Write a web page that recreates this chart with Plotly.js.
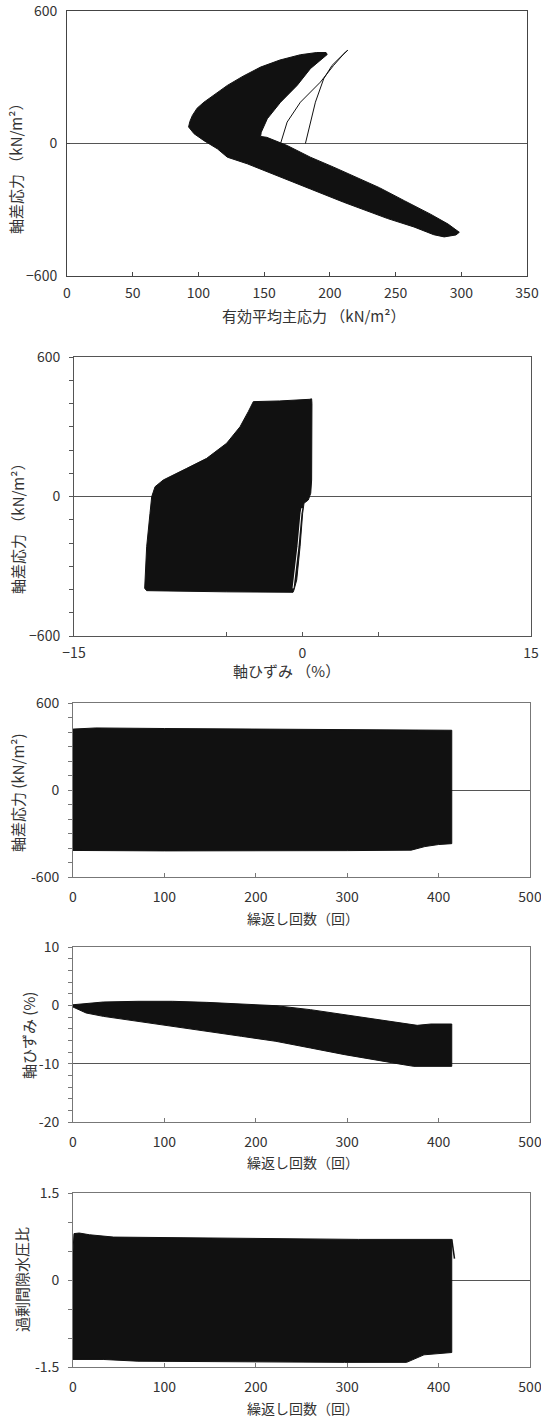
<!DOCTYPE html>
<html>
<head>
<meta charset="utf-8">
<script src="https://cdn.plot.ly/plotly-3.0.1.min.js"></script>
<style>html,body{margin:0;padding:0;background:#fff;}#chart{width:541px;height:1423px;}</style>
</head>
<body>
<div id="chart"></div>
<script>
// ---------- Panel 1: stress path (effective mean principal stress vs deviator stress) ----------
const p1OutlineP = [92.5, 93.5, 95.4, 99, 104.2, 112, 122, 134, 147.3, 162, 177.6, 190, 197.1,
  198, 185.2, 175.1, 162.5, 152.4, 147.8, 147.3,
  152, 167.5, 185.2, 202.9, 223.2, 237.7, 257, 276.9, 290, 298.5,
  296, 287, 279, 264, 244, 223.2, 210.5, 185.2, 160, 137.2, 122, 114.4, 104.2, 96.7, 92.5];
const p1OutlineQ = [75, 100, 127, 160, 187, 222, 263, 305, 346, 378, 402, 412, 412,
  403, 339, 263, 187, 112, 51, 32,
  28, -9, -62, -107, -160, -200, -260, -321, -365, -402,
  -414, -423, -413, -378, -340, -296, -266, -206, -145, -92, -62, -24, 13, 44, 75];
const p1FirstP = [181.4, 184, 189, 195.3, 201.7, 208, 213.6, 211.8, 202.9, 192.8, 177.6, 167.5, 162.5];
const p1FirstQ = [0, 67, 187, 293, 354, 391, 422, 414, 354, 278, 187, 97, 0];

// ---------- Panel 2: axial strain vs deviator stress ----------
const p2OutlineS = [-3.23, -1.5, 0.45, 0.60, 0.62, 0.62, 0.60, 0.54, 0.38, 0.10, 0.01, -0.16, -0.38, -0.56, -0.62,
  -5.0, -10.23, -10.36, -10.34, -10.23, -10.01, -9.90, -9.68, -9.14, -7.60, -6.29, -4.98, -4.10, -3.56, -3.23];
const p2OutlineQ = [408, 411, 418, 420, 400, 200, 71, 14, -15, -29, -72, -216, -359, -402, -412,
  -410, -405, -395, -359, -216, -72, -1, 42, 71, 121, 164, 229, 300, 365, 408];
const p2GapS = [-0.04, -0.10, -0.30, -0.52, -0.62];
const p2GapQ = [-50, -72, -216, -359, -395];

// ---------- Panel 3: cycles vs deviator stress (envelope of the cycles) ----------
const n3Upper = [0, 25, 100, 200, 300, 380, 414.4];
const q3Upper = [420, 428, 424, 420, 418, 415, 412];
const n3Lower = [0, 100, 200, 300, 370, 375, 385, 400, 414.4];
const q3Lower = [-417, -420, -420, -418, -415, -405, -390, -376, -370];

// ---------- Panel 4: cycles vs axial strain (envelope) ----------
const n4Upper = [0, 33.2, 71, 108.7, 146.4, 184, 222, 259.7, 297.4, 335, 361.5, 376.6, 391.7, 414.4];
const e4Upper = [0.1, 0.57, 0.69, 0.69, 0.51, 0.29, -0.06, -0.74, -1.6, -2.46, -3.03, -3.43, -3.2, -3.2];
const n4Lower = [0, 14.3, 33.2, 71, 108.7, 146.4, 184.2, 222, 259.7, 297.4, 335, 361.5, 372.9, 414.4];
const e4Lower = [-0.29, -1.31, -1.89, -2.74, -3.6, -4.46, -5.31, -6.17, -7.31, -8.46, -9.49, -10.17, -10.46, -10.46];

// ---------- Panel 5: cycles vs excess pore water pressure ratio (envelope) ----------
const n5Upper = [0, 1.1, 6.8, 18, 44.5, 108.7, 222, 312.5, 414.4];
const u5Upper = [0.5, 0.80, 0.81, 0.78, 0.74, 0.73, 0.72, 0.70, 0.70];
const n5Lower = [0, 33, 71, 146, 297, 365, 373, 384, 414.4];
const u5Lower = [-1.37, -1.37, -1.40, -1.41, -1.42, -1.42, -1.37, -1.29, -1.25];
const n5Tail = [414.4, 417.4];
const u5Tail = [0.70, 0.37];

// ---------- tick labels / titles ----------
const xTicks1 = [0, 50, 100, 150, 200, 250, 300, 350];
const yTicks12 = [-600, 0, 600];
const yText12 = ['\u2212600', '0', '600'];
const xTicks2 = [-15, -5, 0, 5, 15];
const xText2 = ['\u221215', '', '0', '', '15'];
const xTicksN = [0, 100, 200, 300, 400, 500];
const yTicks3 = [-600, 0, 600];
const yText3 = ['-600', '0', '600'];
const yTicks4 = [-20, -10, 0, 10];
const yText4 = ['-20', '-10', '0', '10'];
const yTicks5 = [-1.5, 0, 1.5];
const yText5 = ['-1.5', '0', '1.5'];

const titleP = '有効平均主応力 （kN/m²）';
const titleQ = '軸差応力 （kN/m²）';
const titleQ3 = '軸差応力 (kN/m²)';
const titleEa = '軸ひずみ （%）';
const titleEa4 = '軸ひずみ (%)';
const titleN = '繰返し回数（回）';
const titleU = '過剰間隙水圧比';

const W = 541, H = 1423;
const FONT = 'Noto Sans CJK JP, Noto Sans, sans-serif';
const INK = '#111';

function closed(xa, ya, xb, yb) {
  return {x: xa.concat(xb.slice().reverse()), y: ya.concat(yb.slice().reverse())};
}
function poly(x, y, xa, ya) {
  return {x: x, y: y, xaxis: xa, yaxis: ya, mode: 'lines', fill: 'toself',
    fillcolor: INK, line: {color: INK, width: 1}, hoverinfo: 'skip', showlegend: false};
}
function line(x, y, xa, ya, color, w) {
  return {x: x, y: y, xaxis: xa, yaxis: ya, mode: 'lines',
    line: {color: color, width: w}, hoverinfo: 'skip', showlegend: false};
}

const env3 = closed(n3Upper, q3Upper, n3Lower, q3Lower);
const env4 = closed(n4Upper, e4Upper, n4Lower, e4Lower);
const env5 = closed(n5Upper, u5Upper, n5Lower, u5Lower);

const data = [
  poly(p1OutlineP, p1OutlineQ, 'x', 'y'),
  line(p1FirstP, p1FirstQ, 'x', 'y', INK, 1),
  poly(p2OutlineS, p2OutlineQ, 'x2', 'y2'),
  line(p2GapS, p2GapQ, 'x2', 'y2', '#fff', 1),
  poly(env3.x, env3.y, 'x3', 'y3'),
  poly(env4.x, env4.y, 'x4', 'y4'),
  poly(env5.x, env5.y, 'x5', 'y5'),
  line(n5Tail, u5Tail, 'x5', 'y5', INK, 1.5)
];

function dom(a, b, n) { return [a / n, b / n]; }
function ydom(top, bottom) { return [1 - bottom / H, 1 - top / H]; }

const tf = {family: FONT, size: 14, color: '#333'};
function xax(domain, anchor, range, tv, tt, lc, standoff) {
  return {domain: domain, anchor: anchor, range: range, tickmode: 'array', tickvals: tv, ticktext: tt,
    ticks: 'inside', ticklen: 4, tickcolor: lc, showline: true, mirror: true, linecolor: lc, linewidth: 1,
    zeroline: false, showgrid: false, tickfont: tf, ticklabelstandoff: standoff, ticklabeloverflow: 'allow',
    fixedrange: true};
}
function yax(domain, anchor, range, tv, tt, lc, minorDt, extra) {
  const a = {domain: domain, anchor: anchor, range: range, tickmode: 'array', tickvals: tv, ticktext: tt,
    ticks: 'outside', ticklen: 4, tickcolor: lc, showline: true, mirror: true, linecolor: lc, linewidth: 1,
    zeroline: true, zerolinecolor: '#555', zerolinewidth: 1, showgrid: false, tickfont: tf,
    ticklabelstandoff: 6, ticklabeloverflow: 'allow', fixedrange: true};
  if (minorDt) a.minor = {tickmode: 'linear', tick0: 0, dtick: minorDt, ticks: 'outside', ticklen: 4, tickcolor: lc};
  return Object.assign(a, extra || {});
}

const L = 73, R = 530;
const layout = {
  width: W, height: H,
  margin: {l: 0, r: 0, t: 0, b: 0},
  paper_bgcolor: '#fff', plot_bgcolor: '#fff',
  showlegend: false,
  font: {family: FONT, color: '#333'},
  xaxis: xax(dom(67, 527, W), 'y', [0, 350], xTicks1, xTicks1.map(String), '#444', 4),
  yaxis: yax(ydom(11, 276), 'x', [-600, 600], yTicks12, yText12, '#444', null, {ticks: 'inside', ticklen: 3}),
  xaxis2: xax(dom(74, 531, W), 'y2', [-15, 15], xTicks2, xText2, '#555', 4),
  yaxis2: yax(ydom(357, 636), 'x2', [-600, 600], yTicks12, yText12, '#555', 100),
  xaxis3: xax(dom(L, R, W), 'y3', [0, 500], xTicksN, xTicksN.map(String), '#777', 7),
  yaxis3: yax(ydom(703, 877), 'x3', [-600, 600], yTicks3, yText3, '#777', 100),
  xaxis4: xax(dom(L, R, W), 'y4', [0, 500], xTicksN, xTicksN.map(String), '#777', 7),
  yaxis4: yax(ydom(947, 1122), 'x4', [-20, 10], yTicks4, yText4, '#777', 2,
    {showgrid: true, gridcolor: '#555', gridwidth: 1}),
  xaxis5: xax(dom(L, R, W), 'y5', [0, 500], xTicksN, xTicksN.map(String), '#777', 7),
  yaxis5: yax(ydom(1193, 1367), 'x5', [-1.5, 1.5], yTicks5, yText5, '#777', 0.5),
  annotations: []
};

function ann(text, px, py, rot, size) {
  layout.annotations.push({text: text, xref: 'paper', yref: 'paper', x: px / W, y: 1 - py / H,
    xanchor: 'center', yanchor: 'middle', showarrow: false, textangle: rot || 0,
    font: {family: FONT, size: size || 15, color: '#333'}});
}
ann(titleP, 313, 315);
ann(titleQ, 16, 165, -90);
ann(titleEa, 286, 670);
ann(titleQ, 17, 525, -90);
ann(titleN, 303, 918, 0, 14);
ann(titleQ3, 17, 793, -90);
ann(titleN, 303, 1162, 0, 14);
ann(titleEa4, 28, 1036, -90);
ann(titleN, 303, 1408, 0, 14);
ann(titleU, 21, 1280, -90);

Plotly.newPlot('chart', data, layout, {staticPlot: true, displayModeBar: false});
</script>
</body>
</html>
